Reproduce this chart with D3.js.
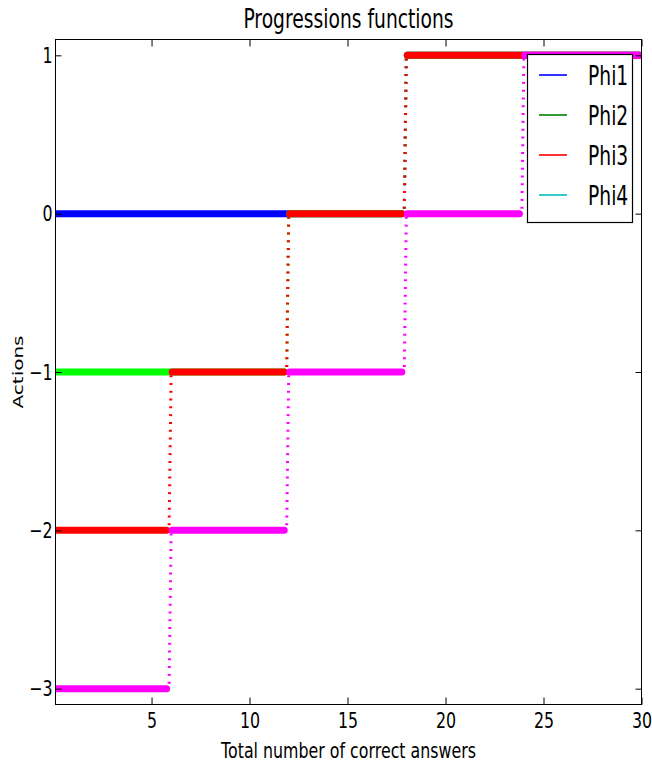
<!DOCTYPE html>
<html>
<head>
<meta charset="utf-8">
<script src="https://cdn.jsdelivr.net/npm/d3@7"></script>
<style>
  html, body { margin: 0; padding: 0; background: #ffffff; }
  svg { display: block; }
  text { font-family: "DejaVu Sans", sans-serif; fill: #000; }
</style>
</head>
<body>
<svg id="chart" width="652" height="768"></svg>
<script>
// ---- data ----
const title = "Progressions functions";
const xLabel = "Total number of correct answers";
const yLabel = "Actions";
const xDomain = [0.1, 30];
const yDomain = [-3.1, 1.1];
const xTicks = [5, 10, 15, 20, 25, 30];
const yTicks = [1, 0, -1, -2, -3];
const stepEdges = [0, 6, 12, 18, 24, 30];
const seriesNames = ["Phi1", "Phi2", "Phi3", "Phi4"];
const phi1 = [0, 0, 0, 1, 1];
const phi2 = [-1, -1, 0, 1, 1];
const phi3 = [-2, -1, 0, 1, 1];
const phi4 = [-3, -2, -1, 0, 1];
const markerColors = ["#0000ff", "#00ff00", "#ff0000", "#ff00ff"];
const legendColors = ["#0000ff", "#008000", "#ff0000", "#00bfbf"];

// ---- layout ----
const SX = 0.72; // horizontal text squeeze of the original figure
const L = 55.5, R = 641.5, T = 39.5, B = 704.5;
const svg = d3.select("#chart");
const x = d3.scaleLinear().domain(xDomain).range([L, R]);
const y = d3.scaleLinear().domain(yDomain).range([B, T]);

svg.append("defs").append("clipPath").attr("id", "plotclip")
  .append("rect").attr("x", L).attr("y", T).attr("width", R - L).attr("height", B - T);

const plot = svg.append("g").attr("clip-path", "url(#plotclip)");
const allSeries = [phi1, phi2, phi3, phi4];
const lastEdge = stepEdges[stepEdges.length - 1];

allSeries.forEach((levels, si) => {
  const col = markerColors[si];
  const runs = [];
  levels.forEach((v, i) => {
    if (runs.length && runs[runs.length - 1].v === v) runs[runs.length - 1].end = i;
    else runs.push({ v: v, start: i, end: i });
  });
  const g = plot.append("g");
  runs.forEach(r => {
    const x0 = stepEdges[r.start], x1 = stepEdges[r.end + 1];
    g.append("line")
      .attr("x1", x(x0) + 1).attr("x2", x1 === lastEdge ? x(x1) - 2 : x(x1) - 4.5)
      .attr("y1", y(r.v)).attr("y2", y(r.v))
      .attr("stroke", col).attr("stroke-width", 7).attr("stroke-linecap", "round");
  });
  for (let i = 0; i < levels.length - 1; i++) {
    if (levels[i] !== levels[i + 1]) {
      const xe = stepEdges[i + 1];
      g.append("line")
        .attr("x1", x(xe) - 2).attr("y1", y(levels[i]) - 5)
        .attr("x2", x(xe)).attr("y2", y(levels[i + 1]))
        .attr("stroke", col).attr("stroke-width", 3)
        .attr("stroke-dasharray", "2,5.8");
    }
  }
});

// ---- axes ----
const fmt = d3.format("d");
const fs = 22;
function styleAxis(g) {
  g.select(".domain").remove();
  g.selectAll(".tick line").attr("stroke", "#000").attr("stroke-width", 1);
  g.selectAll(".tick text").attr("font-size", fs).attr("font-family", "DejaVu Sans").attr("fill", "#000");
}
const gb = svg.append("g").attr("transform", `translate(0,${B})`)
  .call(d3.axisBottom(x).tickValues(xTicks).tickFormat(fmt).tickSizeInner(-7).tickSizeOuter(0).tickPadding(8));
styleAxis(gb);
gb.selectAll(".tick text").attr("transform", `scale(${SX},1)`);
const gt = svg.append("g").attr("transform", `translate(0,${T})`)
  .call(d3.axisTop(x).tickValues(xTicks).tickFormat("").tickSizeInner(-7).tickSizeOuter(0));
styleAxis(gt);
const gl = svg.append("g").attr("transform", `translate(${L},0)`)
  .call(d3.axisLeft(y).tickValues(yTicks).tickFormat(fmt).tickSizeInner(-6).tickSizeOuter(0).tickPadding(4));
styleAxis(gl);
gl.selectAll(".tick text").attr("transform", `scale(${SX},1)`);
const gr = svg.append("g").attr("transform", `translate(${R},0)`)
  .call(d3.axisRight(y).tickValues(yTicks).tickFormat("").tickSizeInner(-6).tickSizeOuter(0));
styleAxis(gr);

svg.append("rect").attr("x", L).attr("y", T).attr("width", R - L).attr("height", B - T)
  .attr("fill", "none").attr("stroke", "#000").attr("stroke-width", 1);

// ---- legend ----
const lg = svg.append("g");
lg.append("rect").attr("x", 527.5).attr("y", 54.5).attr("width", 105).attr("height", 168)
  .attr("fill", "#fff").attr("stroke", "#000").attr("stroke-width", 1.2);
seriesNames.forEach((name, i) => {
  const ly = 75 + i * 40;
  lg.append("line").attr("x1", 539).attr("x2", 567).attr("y1", ly).attr("y2", ly)
    .attr("stroke", legendColors[i]).attr("stroke-width", 1.6);
  lg.append("text").attr("transform", `translate(588,${ly + 9.5}) scale(${SX},1)`)
    .attr("font-size", 26).text(name);
});

// ---- titles ----
svg.append("text").attr("transform", `translate(${(L + R) / 2},28) scale(${SX},1)`)
  .attr("text-anchor", "middle").attr("font-size", 26).text(title);
svg.append("text").attr("transform", `translate(${(L + R) / 2},758) scale(${SX},1)`)
  .attr("text-anchor", "middle").attr("font-size", 22).text(xLabel);
svg.append("text").attr("transform", `translate(23,${(T + B) / 2}) scale(${SX},1) rotate(-90)`)
  .attr("text-anchor", "middle").attr("font-size", 20).text(yLabel);
</script>
</body>
</html>
